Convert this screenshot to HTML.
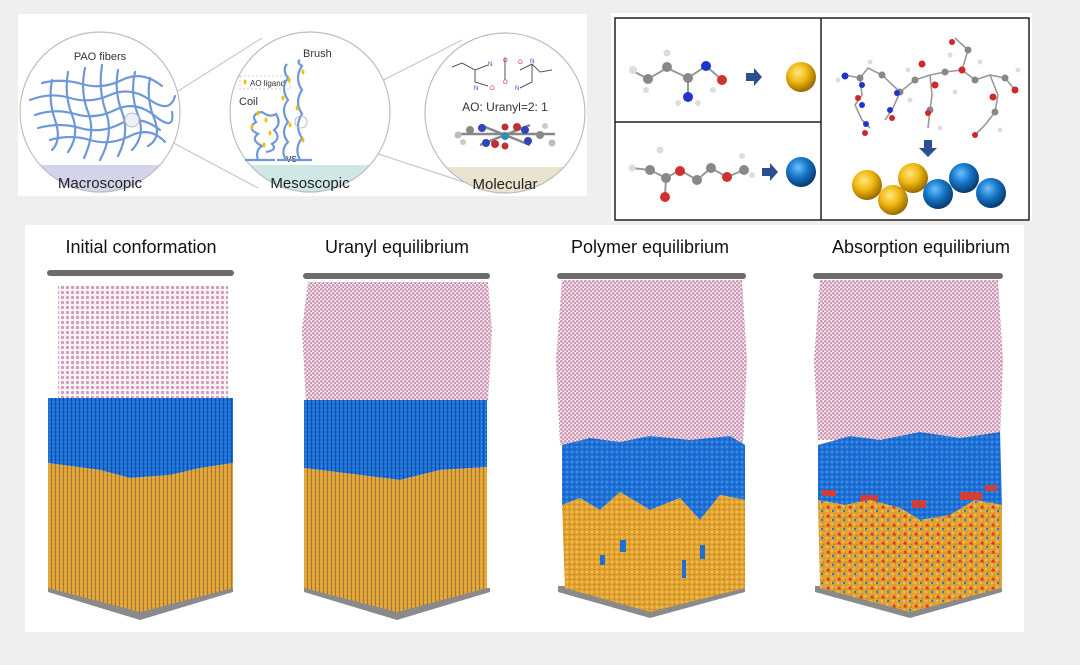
<!DOCTYPE html>
<html><head><meta charset="utf-8"><style>
html,body{margin:0;padding:0;background:#efefef;}
body{width:1080px;height:665px;overflow:hidden;position:relative;font-family:"Liberation Sans",sans-serif;}
svg{position:absolute;left:0;top:0;}
</style></head><body>
<svg width="1080" height="665" viewBox="0 0 1080 665" xmlns="http://www.w3.org/2000/svg">
<defs>
<pattern id="pink" width="4" height="4" patternUnits="userSpaceOnUse"><rect width="4" height="4" fill="#f6eaf0"/><circle cx="1.3" cy="1.3" r="1.4" fill="#d49cb8"/><circle cx="3.3" cy="3.2" r="1.0" fill="#b8849e"/></pattern>
<pattern id="pinkGrid" width="5" height="5" patternUnits="userSpaceOnUse"><rect width="5" height="5" fill="#fbf3f7"/><circle cx="2.5" cy="2.5" r="1.6" fill="#d29bb7"/></pattern>
<pattern id="blueStr" width="4" height="4" patternUnits="userSpaceOnUse"><rect width="4" height="4" fill="#1a6fd6"/><rect x="3" width="1" height="4" fill="#0e4fa8"/><circle cx="1.5" cy="2" r="0.7" fill="#4a95e8"/></pattern>
<pattern id="orStr" width="4" height="4" patternUnits="userSpaceOnUse"><rect width="4" height="4" fill="#e3a12c"/><rect x="3" width="1" height="4" fill="#9a7a4a"/><circle cx="1.5" cy="2" r="0.7" fill="#f3c25a"/></pattern>
<pattern id="blueDot" width="5" height="5" patternUnits="userSpaceOnUse"><rect width="5" height="5" fill="#1c6fd4"/><circle cx="2" cy="2" r="1.3" fill="#3d8ce6"/><circle cx="4.5" cy="4.5" r="0.8" fill="#0f55b0"/></pattern>
<pattern id="orDot" width="5" height="5" patternUnits="userSpaceOnUse"><rect width="5" height="5" fill="#e0a02e"/><circle cx="2" cy="2" r="1.3" fill="#f2bd4e"/><circle cx="4.5" cy="4.5" r="0.8" fill="#b07c24"/></pattern>
<pattern id="orRed" width="11" height="9" patternUnits="userSpaceOnUse"><rect width="11" height="9" fill="url(#orDot)"/><circle cx="3" cy="3" r="1.6" fill="#e23a2a"/><circle cx="8" cy="7" r="1.2" fill="#2a74d0"/></pattern>
<radialGradient id="gy" cx="40%" cy="35%" r="65%"><stop offset="0" stop-color="#ffe680"/><stop offset="0.5" stop-color="#f0b810"/><stop offset="1" stop-color="#9a6a00"/></radialGradient>
<radialGradient id="gb" cx="40%" cy="35%" r="65%"><stop offset="0" stop-color="#6ec0ff"/><stop offset="0.5" stop-color="#1577c8"/><stop offset="1" stop-color="#083a70"/></radialGradient>
<clipPath id="c1"><circle cx="100" cy="112" r="80"/></clipPath>
<clipPath id="c2"><circle cx="310" cy="112" r="80"/></clipPath>
<clipPath id="c3"><circle cx="505" cy="113" r="80"/></clipPath>
</defs>

<rect x="18" y="14" width="569" height="182" fill="#fff"/>
<g stroke="#c8c8c8" stroke-width="1.2" fill="none">
<line x1="140" y1="115" x2="262" y2="38"/><line x1="140" y1="125" x2="258" y2="188"/>
<line x1="305" y1="120" x2="462" y2="40"/><line x1="305" y1="130" x2="470" y2="184"/>
</g>
<g clip-path="url(#c1)"><circle cx="100" cy="112" r="80" fill="#fff"/><rect x="18" y="165" width="170" height="30" fill="#d3d3ea"/></g>
<g clip-path="url(#c2)"><circle cx="310" cy="112" r="80" fill="#fff"/><rect x="228" y="165" width="170" height="30" fill="#cfe8e6"/></g>
<g clip-path="url(#c3)"><circle cx="505" cy="113" r="80" fill="#fff"/><rect x="423" y="167" width="170" height="30" fill="#e9e3cf"/></g>
<g fill="none" stroke="#bdbdbd" stroke-width="1.2"><circle cx="100" cy="112" r="80"/><circle cx="310" cy="112" r="80"/><circle cx="505" cy="113" r="80"/></g>
<g stroke="#6f98d8" stroke-width="2.2" fill="none" stroke-linecap="round">
<path d="M30 100 Q50 92 70 98 T110 95 T150 100 T175 96"/>
<path d="M35 115 Q55 108 75 114 T115 110 T155 116 T172 112"/>
<path d="M38 128 Q60 122 80 128 T120 124 T160 130"/>
<path d="M42 83 Q62 78 82 84 T122 80 T162 86"/>
<path d="M50 140 Q70 134 90 140 T130 136 T165 142"/>
<path d="M52 80 Q48 100 55 120 T52 150"/><path d="M68 72 Q64 95 72 115 T68 152"/>
<path d="M85 68 Q80 92 88 112 T84 158"/><path d="M102 65 Q98 90 106 112 T100 160"/>
<path d="M118 70 Q114 92 122 112 T118 156"/><path d="M135 72 Q130 95 138 115 T132 150"/>
<path d="M150 78 Q146 98 154 118 T148 146"/>
</g>
<circle cx="132" cy="120" r="7" fill="#eef2f8" stroke="#bbb"/>
<text x="100" y="60" font-size="11" text-anchor="middle" fill="#333">PAO fibers</text>
<text x="100" y="188" font-size="15" text-anchor="middle" fill="#222">Macroscopic</text>
<rect x="240" y="76" width="50" height="13" fill="none" stroke="#ccc" stroke-dasharray="2,2"/>
<ellipse cx="245" cy="82" rx="1.5" ry="2.5" fill="#f2c000"/>
<text x="250" y="86" font-size="8" fill="#333">AO ligand</text>
<text x="239" y="105" font-size="11" fill="#333">Coil</text>
<text x="303" y="57" font-size="11" fill="#333">Brush</text>
<text x="286" y="162" font-size="11" fill="#333">vs</text>
<g stroke="#6f98d8" stroke-width="2.2" fill="none">
<path d="M245 160 L275 160"/><path d="M258 160 Q255 150 262 146 Q250 140 258 134 Q246 128 256 122 Q250 114 262 112 Q270 118 276 114 Q282 124 274 130 Q282 138 272 144 Q278 150 266 152"/>
<path d="M277 160 L312 160"/><path d="M286 160 Q280 150 288 142 Q280 132 288 122 Q280 110 288 100 Q280 88 288 78 Q282 70 287 64"/>
<path d="M300 160 Q294 148 302 138 Q294 126 302 114 Q294 102 302 90 Q294 78 302 66 Q296 62 300 60"/>
</g>
<g fill="#f2c000"><ellipse cx="258" cy="113" rx="1.5" ry="2.5"/><ellipse cx="266" cy="120" rx="1.5" ry="2.5"/><ellipse cx="252" cy="127" rx="1.5" ry="2.5"/><ellipse cx="270" cy="133" rx="1.5" ry="2.5"/><ellipse cx="264" cy="145" rx="1.5" ry="2.5"/><ellipse cx="289" cy="80" rx="1.5" ry="2.5"/><ellipse cx="283" cy="98" rx="1.5" ry="2.5"/><ellipse cx="290" cy="125" rx="1.5" ry="2.5"/><ellipse cx="303" cy="72" rx="1.5" ry="2.5"/><ellipse cx="297" cy="108" rx="1.5" ry="2.5"/><ellipse cx="303" cy="140" rx="1.5" ry="2.5"/></g>
<circle cx="301" cy="122" r="6" fill="none" stroke="#bbb"/>
<text x="310" y="188" font-size="15" text-anchor="middle" fill="#222">Mesoscopic</text>
<g stroke="#555" stroke-width="1" fill="none"><path d="M452 67 L462 63 L475 70 L488 65 M475 70 L475 82 L488 86 M505 58 L505 80 M520 70 L532 64 L540 72 L552 70 M532 64 L532 82 L520 88"/></g>
<g font-size="6" fill="#3344cc"><text x="488" y="66">N</text><text x="474" y="90">N</text><text x="515" y="90">N</text><text x="530" y="63">N</text></g>
<g font-size="6" fill="#e03030"><text x="503" y="62">O</text><text x="503" y="84">O</text><text x="490" y="90">O</text><text x="518" y="64">O</text></g>
<text x="505" y="111" font-size="12" text-anchor="middle" fill="#333">AO: Uranyl=2: 1</text>
<g stroke="#888" stroke-width="2.5"><line x1="458" y1="134" x2="555" y2="134"/><line x1="480" y1="125" x2="530" y2="145"/><line x1="480" y1="145" x2="530" y2="125"/></g>
<g><circle cx="458" cy="135" r="3.5" fill="#bbb"/><circle cx="470" cy="130" r="4" fill="#888"/><circle cx="482" cy="128" r="4" fill="#3344bb"/><circle cx="486" cy="143" r="4" fill="#3344bb"/><circle cx="495" cy="144" r="4" fill="#c03030"/><circle cx="505" cy="127" r="3.5" fill="#c03030"/><circle cx="505" cy="146" r="3.5" fill="#c03030"/><circle cx="505" cy="136" r="4" fill="#3a8ab0"/><circle cx="517" cy="127" r="4" fill="#c03030"/><circle cx="525" cy="130" r="4" fill="#3344bb"/><circle cx="528" cy="141" r="4" fill="#3344bb"/><circle cx="540" cy="135" r="4" fill="#888"/><circle cx="552" cy="143" r="3.5" fill="#bbb"/><circle cx="545" cy="126" r="3" fill="#ccc"/><circle cx="463" cy="142" r="3" fill="#ccc"/></g>
<text x="505" y="189" font-size="15" text-anchor="middle" fill="#222">Molecular</text>

<rect x="611" y="13" width="421" height="208" fill="#fff"/>
<rect x="615" y="18" width="414" height="202" fill="#fff" stroke="#222" stroke-width="1.5"/>
<line x1="821" y1="18" x2="821" y2="220" stroke="#222" stroke-width="1.5"/>
<line x1="615" y1="122" x2="821" y2="122" stroke="#222" stroke-width="1.5"/>
<g stroke="#999" stroke-width="2"><polyline points="633,71 648,79 667,68 688,78 706,66 722,80" fill="none"/><line x1="688" y1="78" x2="688" y2="96"/></g>
<g><circle cx="633" cy="70" r="4" fill="#ddd"/><circle cx="648" cy="79" r="5" fill="#888"/><circle cx="667" cy="67" r="5" fill="#888"/><circle cx="667" cy="53" r="3.5" fill="#ddd"/><circle cx="688" cy="78" r="5" fill="#888"/><circle cx="706" cy="66" r="5" fill="#2233cc"/><circle cx="722" cy="80" r="5" fill="#d03030"/><circle cx="688" cy="97" r="5" fill="#2233cc"/><circle cx="678" cy="103" r="3" fill="#ddd"/><circle cx="698" cy="103" r="3" fill="#ddd"/><circle cx="713" cy="90" r="3" fill="#ddd"/><circle cx="646" cy="90" r="3" fill="#ddd"/></g>
<polygon points="746,73 754,73 754,68 762,77 754,86 754,81 746,81" fill="#2b4f8f"/>
<circle cx="801" cy="77" r="15" fill="url(#gy)"/>
<g stroke="#999" stroke-width="2" fill="none"><polyline points="632,168 650,170 666,178 680,170 697,180 711,168 727,177 744,170"/><line x1="666" y1="178" x2="665" y2="196"/></g>
<g><circle cx="632" cy="168" r="3.5" fill="#ddd"/><circle cx="650" cy="170" r="5" fill="#888"/><circle cx="660" cy="150" r="3.5" fill="#ddd"/><circle cx="666" cy="178" r="5" fill="#888"/><circle cx="665" cy="197" r="5" fill="#d03030"/><circle cx="680" cy="171" r="5" fill="#d03030"/><circle cx="697" cy="180" r="5" fill="#888"/><circle cx="711" cy="168" r="5" fill="#888"/><circle cx="727" cy="177" r="5" fill="#d03030"/><circle cx="744" cy="170" r="5" fill="#888"/><circle cx="752" cy="175" r="3" fill="#ddd"/><circle cx="742" cy="156" r="3" fill="#ddd"/></g>
<polygon points="762,168 770,168 770,163 778,172 770,181 770,176 762,176" fill="#2b4f8f"/>
<circle cx="801" cy="172" r="15" fill="url(#gb)"/>
<g stroke="#999" stroke-width="1.6" fill="none"><polyline points="845,75 860,78 868,68 882,75 900,92 915,80 930,75 945,72 962,70 975,80 990,75 1005,78 1015,90"/><polyline points="860,78 862,95 855,105 862,120 870,128"/><polyline points="900,92 893,108 885,120"/><polyline points="930,75 932,95 930,110 928,128"/><polyline points="962,70 968,50 955,38"/><polyline points="990,75 998,95 995,112 985,125 975,135"/></g>
<g fill="#888"><circle cx="860" cy="78" r="3.5"/><circle cx="882" cy="75" r="3.5"/><circle cx="900" cy="92" r="3.5"/><circle cx="915" cy="80" r="3.5"/><circle cx="945" cy="72" r="3.5"/><circle cx="975" cy="80" r="3.5"/><circle cx="1005" cy="78" r="3.5"/><circle cx="930" cy="110" r="3.5"/><circle cx="995" cy="112" r="3.5"/><circle cx="968" cy="50" r="3.5"/></g>
<g fill="#d02828"><circle cx="922" cy="64" r="3.5"/><circle cx="935" cy="85" r="3.5"/><circle cx="962" cy="70" r="3.5"/><circle cx="1015" cy="90" r="3.5"/><circle cx="993" cy="97" r="3.5"/><circle cx="928" cy="113" r="3"/><circle cx="858" cy="98" r="3"/><circle cx="865" cy="133" r="3"/><circle cx="892" cy="118" r="3"/><circle cx="975" cy="135" r="3"/><circle cx="952" cy="42" r="3"/></g>
<g fill="#2233cc"><circle cx="845" cy="76" r="3.5"/><circle cx="862" cy="85" r="3"/><circle cx="862" cy="105" r="3"/><circle cx="866" cy="124" r="3"/><circle cx="897" cy="93" r="3"/><circle cx="890" cy="110" r="3"/></g>
<g fill="#ddd"><circle cx="838" cy="80" r="2.5"/><circle cx="870" cy="62" r="2.5"/><circle cx="908" cy="70" r="2.5"/><circle cx="950" cy="55" r="2.5"/><circle cx="980" cy="62" r="2.5"/><circle cx="1018" cy="70" r="2.5"/><circle cx="1000" cy="130" r="2.5"/><circle cx="940" cy="128" r="2.5"/><circle cx="910" cy="100" r="2.5"/><circle cx="955" cy="92" r="2.5"/></g>
<polygon points="924,140 932,140 932,148 937,148 928,157 919,148 924,148" fill="#2b4f8f"/>
<circle cx="867" cy="185" r="15" fill="url(#gy)"/>
<circle cx="893" cy="200" r="15" fill="url(#gy)"/>
<circle cx="913" cy="178" r="15" fill="url(#gy)"/>
<circle cx="938" cy="194" r="15" fill="url(#gb)"/>
<circle cx="964" cy="178" r="15" fill="url(#gb)"/>
<circle cx="991" cy="193" r="15" fill="url(#gb)"/>

<rect x="25" y="225" width="999" height="407" fill="#fff"/>
<g font-size="18" fill="#111" text-anchor="middle">
<text x="141" y="253">Initial conformation</text>
<text x="397" y="253">Uranyl equilibrium</text>
<text x="650" y="253">Polymer equilibrium</text>
<text x="921" y="253">Absorption equilibrium</text>
</g>

<g>
<polygon points="48,588 233,588 233,592 140,620 48,592" fill="#8a8a8a"/>
<rect x="58" y="286" width="170" height="115" fill="url(#pinkGrid)"/>
<polygon points="48,398 233,398 233,463 200,468 170,475 130,478 100,470 48,463" fill="url(#blueStr)"/>
<polygon points="48,463 100,470 130,478 170,475 200,468 233,463 233,588 140,612 48,588" fill="url(#orStr)"/>
<rect x="47" y="270" width="187" height="6" rx="3" fill="#6b6b6b"/>
</g>
<g>
<polygon points="304,588 490,588 490,592 397,620 304,592" fill="#8a8a8a"/>
<polygon points="308,282 488,282 492,330 488,402 306,402 302,330" fill="url(#pink)"/>
<polygon points="304,400 487,400 487,467 440,470 400,480 360,475 304,468" fill="url(#blueStr)"/>
<polygon points="304,468 360,475 400,480 440,470 487,467 487,588 397,612 304,588" fill="url(#orStr)"/>
<rect x="303" y="273" width="187" height="6" rx="3" fill="#6b6b6b"/>
</g>
<g>
<polygon points="558,586 745,586 745,592 650,618 558,592" fill="#8a8a8a"/>
<polygon points="562,280 742,280 747,360 743,445 560,445 556,360" fill="url(#pink)"/>
<polygon points="562,445 590,438 620,442 650,436 690,440 730,436 745,445 745,500 720,495 700,520 680,498 650,510 620,492 600,510 580,498 562,505" fill="url(#blueDot)"/>
<polygon points="562,505 580,498 600,510 620,492 650,510 680,498 700,520 720,495 745,500 745,588 650,612 565,588" fill="url(#orDot)"/>
<g fill="#1c6fd4"><rect x="620" y="540" width="6" height="12"/><rect x="700" y="545" width="5" height="14"/><rect x="682" y="560" width="4" height="18"/><rect x="600" y="555" width="5" height="10"/></g>
<rect x="557" y="273" width="189" height="6" rx="3" fill="#6b6b6b"/>
</g>
<g>
<polygon points="815,586 1002,586 1002,592 910,618 815,592" fill="#8a8a8a"/>
<polygon points="820,280 998,280 1003,360 1000,440 818,440 814,360" fill="url(#pink)"/>
<polygon points="818,445 850,436 880,440 920,432 960,438 1000,432 1002,505 975,500 950,515 920,520 900,508 870,500 845,505 818,500" fill="url(#blueDot)"/>
<g fill="#e23a2a" opacity="0.9"><rect x="822" y="490" width="14" height="6"/><rect x="860" y="495" width="18" height="8"/><rect x="912" y="500" width="14" height="8"/><rect x="960" y="492" width="22" height="8"/><rect x="985" y="485" width="12" height="6"/></g>
<polygon points="818,500 845,505 870,500 900,508 920,520 950,515 975,500 1002,505 1002,588 910,612 820,588" fill="url(#orRed)"/>
<rect x="813" y="273" width="190" height="6" rx="3" fill="#6b6b6b"/>
</g>
</svg>
</body></html>
